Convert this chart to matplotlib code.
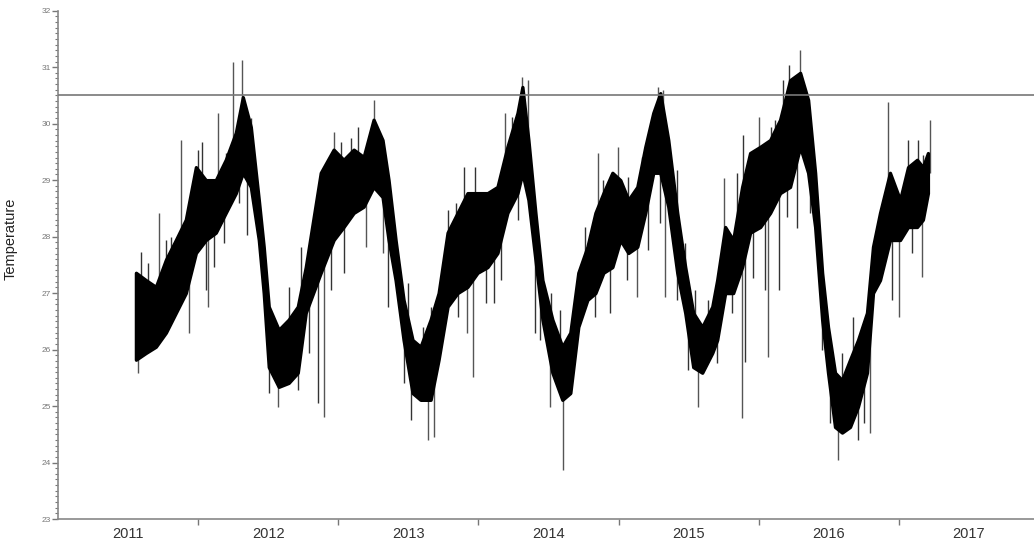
import numpy as np
import matplotlib

matplotlib.use("Agg")
import matplotlib.pyplot as plt
from matplotlib.ticker import MultipleLocator, FixedLocator


# band of the series (decimal year, upper edge, lower edge)
TIME = [
    2011.556, 2011.627, 2011.698, 2011.770, 2011.841, 2011.912, 2011.984,
    2012.055, 2012.126, 2012.197, 2012.269, 2012.319, 2012.376, 2012.433,
    2012.468, 2012.504, 2012.575, 2012.646, 2012.711, 2012.768, 2012.875,
    2012.967, 2013.038, 2013.110, 2013.181, 2013.252, 2013.316, 2013.359,
    2013.409, 2013.466, 2013.530, 2013.587, 2013.659, 2013.716, 2013.780,
    2013.851, 2013.922, 2013.994, 2014.065, 2014.136, 2014.207, 2014.279,
    2014.314, 2014.357, 2014.407, 2014.457, 2014.528, 2014.599, 2014.656,
    2014.713, 2014.778, 2014.835, 2014.892, 2014.956, 2015.013, 2015.070,
    2015.134, 2015.191, 2015.248, 2015.298, 2015.355, 2015.419, 2015.476,
    2015.533, 2015.597, 2015.669, 2015.704, 2015.761, 2015.818, 2015.882,
    2015.939, 2016.011, 2016.082, 2016.153, 2016.224, 2016.296, 2016.353,
    2016.403, 2016.453, 2016.495, 2016.545, 2016.595, 2016.652, 2016.709,
    2016.773, 2016.816, 2016.866, 2016.937, 2017.009, 2017.066, 2017.130,
    2017.172, 2017.208,
]
UPPER = [
    27.36, 27.23, 27.11, 27.59, 27.94, 28.30, 29.23,
    29.00, 29.00, 29.36, 29.84, 30.47, 29.94, 28.65,
    27.82, 26.76, 26.35, 26.53, 26.76, 27.46, 29.13,
    29.54, 29.36, 29.54, 29.41, 30.07, 29.71, 29.00,
    27.94, 26.88, 26.17, 26.05, 26.53, 27.00, 28.07,
    28.42, 28.77, 28.77, 28.77, 28.88, 29.59, 30.19,
    30.65, 29.71, 28.42, 27.23, 26.53, 26.05, 26.30,
    27.36, 27.82, 28.42, 28.77, 29.13, 29.00, 28.65,
    28.88, 29.59, 30.19, 30.54, 29.71, 28.42, 27.46,
    26.65, 26.40, 26.76, 27.23, 28.17, 27.94, 28.88,
    29.48, 29.59, 29.71, 30.07, 30.77, 30.90, 30.42,
    29.13, 27.36, 26.40, 25.59, 25.46, 25.82, 26.17,
    26.65, 27.82, 28.42, 29.13, 28.65, 29.23, 29.36,
    29.23, 29.48,
]
LOWER = [
    25.82, 25.94, 26.05, 26.30, 26.65, 27.00, 27.71,
    27.94, 28.07, 28.42, 28.77, 29.13, 28.88, 27.94,
    27.00, 25.69, 25.34, 25.41, 25.59, 26.65, 27.36,
    27.94, 28.17, 28.42, 28.53, 28.88, 28.70, 27.94,
    27.23, 26.17, 25.23, 25.11, 25.11, 25.82, 26.76,
    27.00, 27.11, 27.36, 27.46, 27.71, 28.42, 28.77,
    29.13, 28.65, 27.59, 26.53, 25.59, 25.11, 25.23,
    26.40, 26.88, 27.00, 27.36, 27.46, 27.94, 27.71,
    27.82, 28.42, 29.13, 29.13, 28.53, 27.36, 26.65,
    25.69, 25.59, 25.94, 26.17, 27.00, 27.00, 27.46,
    28.07, 28.17, 28.42, 28.77, 28.88, 29.59, 29.13,
    28.17, 26.53, 25.59, 24.63, 24.53, 24.63, 24.99,
    25.59, 27.00, 27.23, 27.94, 27.94, 28.17, 28.17,
    28.30, 28.77,
]

# single readings that stick far out of the band
SPIKE_TIME = [
    2011.570, 2011.720, 2011.877, 2011.934, 2012.069, 2012.140, 2012.247,
    2012.311, 2012.568, 2012.860, 2012.896, 2012.967, 2013.195, 2013.252,
    2013.316, 2013.637, 2013.680, 2013.922, 2013.965, 2014.193, 2014.314,
    2014.357, 2014.514, 2014.607, 2014.856, 2014.999, 2015.134, 2015.284,
    2015.319, 2015.334, 2015.569, 2015.754, 2015.882, 2016.004, 2016.068,
    2016.296, 2016.567, 2016.795, 2016.923, 2017.001, 2017.165, 2017.222,
]
SPIKE_VALUE = [
    25.59, 28.42, 29.71, 26.30, 26.76, 30.19, 31.09,
    31.13, 24.99, 28.88, 24.81, 29.85, 27.82, 30.42,
    27.71, 24.40, 24.45, 26.30, 25.52, 30.19, 30.83,
    30.77, 24.99, 23.87, 29.48, 29.59, 26.93, 30.65,
    30.60, 26.93, 24.99, 29.04, 24.79, 30.12, 25.87,
    31.30, 24.05, 24.53, 30.38, 26.58, 27.29, 30.07,
]

# shorter excursions just outside the band edges
SHORT_TIME = [
    2011.592, 2011.641, 2011.770, 2011.805, 2011.998, 2012.026, 2012.055,
    2012.112, 2012.183, 2012.197, 2012.290, 2012.347, 2012.376, 2012.504,
    2012.646, 2012.711, 2012.732, 2012.789, 2012.853, 2012.946, 2013.017,
    2013.038, 2013.088, 2013.138, 2013.352, 2013.423, 2013.466, 2013.495,
    2013.516, 2013.602, 2013.659, 2013.780, 2013.837, 2013.858, 2013.894,
    2013.979, 2014.051, 2014.108, 2014.158, 2014.243, 2014.286, 2014.407,
    2014.443, 2014.521, 2014.585, 2014.763, 2014.835, 2014.892, 2014.942,
    2015.063, 2015.070, 2015.170, 2015.212, 2015.298, 2015.419, 2015.419,
    2015.476, 2015.498, 2015.547, 2015.640, 2015.704, 2015.811, 2015.847,
    2015.890, 2015.904, 2015.961, 2016.046, 2016.089, 2016.118, 2016.146,
    2016.175, 2016.203, 2016.217, 2016.274, 2016.367, 2016.453, 2016.510,
    2016.595, 2016.673, 2016.709, 2016.752, 2016.951, 2017.066, 2017.094,
    2017.137, 2017.172,
]
SHORT_VALUE = [
    27.73, 27.53, 27.94, 27.99, 29.54, 29.68, 27.06,
    27.46, 27.89, 29.48, 28.60, 28.03, 30.10, 25.23,
    27.11, 25.29, 27.82, 25.94, 25.05, 27.06, 29.68,
    27.36, 29.74, 29.94, 26.76, 27.59, 25.41, 27.18,
    24.75, 26.40, 26.76, 28.47, 28.60, 26.58, 29.23,
    29.23, 26.82, 26.82, 27.23, 30.12, 28.30, 26.30,
    26.17, 27.00, 26.70, 28.17, 26.58, 29.00, 26.65,
    27.23, 29.05, 29.41, 27.76, 28.24, 29.18, 26.88,
    27.89, 25.64, 27.06, 26.88, 25.76, 26.65, 29.13,
    29.80, 25.78, 27.26, 27.06, 29.94, 30.07, 27.06,
    30.77, 28.35, 31.04, 28.15, 28.42, 25.99, 24.70,
    25.94, 26.58, 24.40, 24.70, 26.88, 29.71, 27.71,
    29.71, 29.45,
]

THRESHOLD = 30.5
YEARS = [2011, 2012, 2013, 2014, 2015, 2016, 2017]

plt.rcParams["font.family"] = ["Liberation Sans", "DejaVu Sans"]

fig = plt.figure(figsize=(10.34, 5.44), dpi=100)
ax = fig.add_axes([58 / 1034, 25 / 544, 976 / 1034, 508.3 / 544])

t = np.array(TIME)
upper = np.array(UPPER)
lower = np.array(LOWER)

# the thin excursions go underneath the dense band
for times, values, colour in [(SHORT_TIME, SHORT_VALUE, "#333333"),
                              (SPIKE_TIME, SPIKE_VALUE, "#555555")]:
    times = np.array(times)
    mid = np.interp(times, t, (upper + lower) / 2)
    ax.vlines(times, mid, values, color=colour, linewidth=1.0, zorder=1)

ax.fill_between(t, lower, upper, color="black", linewidth=2.4,
                edgecolor="black", zorder=2)

ax.axhline(THRESHOLD, color="#777777", linewidth=1.2, zorder=3)

ax.set_xlim(2011, 2017.965)
ax.set_ylim(23, 32)

ax.xaxis.set_major_locator(FixedLocator([y + 1 for y in YEARS[:-1]]))
ax.xaxis.set_minor_locator(FixedLocator([y + 0.5 for y in YEARS]))
ax.xaxis.set_major_formatter(plt.NullFormatter())
ax.xaxis.set_minor_formatter(plt.FixedFormatter([str(y) for y in YEARS]))
ax.tick_params(axis="x", which="major", direction="out", length=4, width=1, color="#777777")
ax.tick_params(axis="x", which="minor", length=0, pad=6, labelsize=10.5, labelcolor="#333333")

ax.yaxis.set_major_locator(MultipleLocator(1))
ax.yaxis.set_minor_locator(MultipleLocator(0.1))
ax.tick_params(axis="y", which="major", direction="out", length=4, width=1,
               color="#777777", labelsize=6, labelcolor="#777777", pad=1)
ax.tick_params(axis="y", which="minor", direction="out", length=2.5, width=0.8, color="#777777")

for side in ["top", "right"]:
    ax.spines[side].set_visible(False)
for side in ["left", "bottom"]:
    ax.spines[side].set_color("#888888")
    ax.spines[side].set_linewidth(1.2)

ax.set_ylabel("Temperature", fontsize=10.5, color="#222222")
ax.yaxis.set_label_coords(-0.041, 0.551)

fig.savefig("out.png", dpi=100)
